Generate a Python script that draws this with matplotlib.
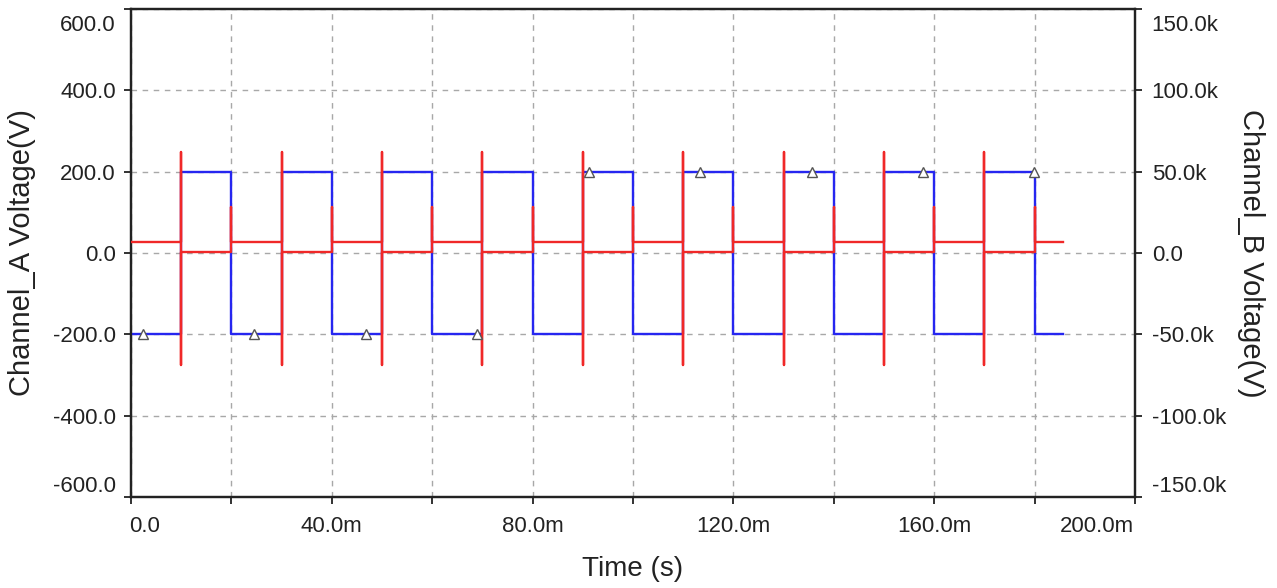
import matplotlib
matplotlib.use("Agg")
import matplotlib.pyplot as plt
import matplotlib.transforms as mtransforms
from matplotlib.ticker import FixedLocator, FuncFormatter

# ---- data (time in ms) ----
edge_times = [0, 10, 20, 30, 40, 50, 60, 70, 80, 90, 100,
              110, 120, 130, 140, 150, 160, 170, 180, 185.7]
chA_levels = [-200, 200, -200, 200, -200, 200, -200, 200, -200, 200,
              -200, 200, -200, 200, -200, 200, -200, 200, -200]          # V
chB_levels = [6.6, 0.5, 6.6, 0.5, 6.6, 0.5, 6.6, 0.5, 6.6, 0.5,
              6.6, 0.5, 6.6, 0.5, 6.6, 0.5, 6.6, 0.5, 6.6]              # kV
chB_spike_hi = [62.0, 28.5, 62.0, 28.5, 62.0, 28.5, 62.0, 28.5, 62.0,
                28.5, 62.0, 28.5, 62.0, 28.5, 62.0, 28.5, 62.0, 28.5]  # kV
chB_spike_lo = [-69.0, None, -69.0, None, -69.0, None, -69.0, None, -69.0,
                None, -69.0, None, -69.0, None, -69.0, None, -69.0, None]
marker_times = [2.4, 24.6, 46.8, 69.0, 91.2, 113.4, 135.6, 157.8, 179.8]
marker_values = [-200, -200, -200, -200, 200, 200, 200, 200, 200]

x_ticks = [0, 40, 80, 120, 160, 200]
x_labels = ["0.0", "40.0m", "80.0m", "120.0m", "160.0m", "200.0m"]
left_ticks = [-600, -400, -200, 0, 200, 400, 600]
right_ticks = [-150, -100, -50, 0, 50, 100, 150]

BLUE = "#2626f0"
RED = "#f02828"
GRID = "#a8a8a8"
TXT = "#222222"
FONT = "Liberation Sans"

# build step paths
ax_t, ax_v = [], []
for i, lvl in enumerate(chA_levels):
    ax_t += [edge_times[i], edge_times[i + 1]]
    ax_v += [lvl, lvl]

bx_t, bx_v = [], []
for i, lvl in enumerate(chB_levels):
    bx_t += [edge_times[i], edge_times[i + 1]]
    bx_v += [lvl, lvl]
    if i < len(chB_spike_hi):
        t = edge_times[i + 1]
        bx_t.append(t); bx_v.append(chB_spike_hi[i])
        if chB_spike_lo[i] is not None:
            bx_t.append(t); bx_v.append(chB_spike_lo[i])

plt.rcParams["font.family"] = [FONT, "DejaVu Sans"]
fig = plt.figure(figsize=(12.77, 5.88), dpi=100)
ax = fig.add_axes([131 / 1277, 1 - 497 / 588, (1135 - 131) / 1277, (497 - 9) / 588])
ax2 = ax.twinx()

ax.set_xlim(0, 200)
ax.set_ylim(-600, 600)
ax2.set_ylim(-150, 150)

ax.plot(ax_t, ax_v, color=BLUE, lw=1.7, zorder=3)
ax2.plot(bx_t, bx_v, color=RED, lw=1.7, zorder=3)
ax2.plot(marker_times, [v / 4 for v in marker_values], ls="none", marker="^",
         ms=7.5, mfc="white", mec="#555555", mew=1.0, zorder=4)

# grid
ax.xaxis.set_major_locator(FixedLocator(x_ticks))
ax.xaxis.set_minor_locator(FixedLocator(list(range(20, 200, 40))))
ax.set_xticklabels(x_labels)
ax.yaxis.set_major_locator(FixedLocator(left_ticks))
ax.yaxis.set_major_formatter(FuncFormatter(lambda v, p: f"{v:.1f}"))
ax2.yaxis.set_major_locator(FixedLocator(right_ticks))
ax2.yaxis.set_major_formatter(
    FuncFormatter(lambda v, p: "0.0" if v == 0 else f"{v:.1f}k"))
ax.grid(True, which="both", axis="x", color=GRID, ls=(0, (4, 4)), lw=1.0)
ax.grid(True, which="major", axis="y", color=GRID, ls=(0, (4, 4)), lw=1.0)

for a in (ax, ax2):
    for s in a.spines.values():
        s.set_linewidth(1.6)
        s.set_color(TXT)
ax.tick_params(axis="x", which="both", direction="out", length=5, width=1.3,
               labelsize=16, pad=9, colors=TXT)
ax.tick_params(axis="y", direction="out", length=5, width=1.3,
               labelsize=16, pad=6, colors=TXT)
ax2.tick_params(axis="y", direction="out", length=5, width=1.3,
                labelsize=16, pad=7, colors=TXT)

ax.set_xlabel("Time (s)", fontsize=20, labelpad=13, color=TXT)
ax.set_ylabel("Channel_A Voltage(V)", fontsize=21, labelpad=12, color=TXT)
ax2.set_ylabel("Channel_B Voltage(V)", fontsize=21, rotation=-90,
               labelpad=28, color=TXT)
ax.set_zorder(ax2.get_zorder() - 1)
ax2.patch.set_visible(False)

# shift end labels inward, as the scope software does
def _shift(label, dx, dy):
    label.set_transform(label.get_transform()
                        + mtransforms.ScaledTranslation(dx / 100, dy / 100, fig.dpi_scale_trans))

xl = ax.get_xticklabels()
xl[0].set_ha("left"); _shift(xl[0], -2, 0)
xl[-1].set_ha("right"); _shift(xl[-1], -1, 0)
yl = ax.get_yticklabels()
_shift(yl[0], 0, 13); _shift(yl[-1], 0, -14)
yr = ax2.get_yticklabels()
_shift(yr[0], 0, 13); _shift(yr[-1], 0, -14)

fig.savefig("out.png", dpi=100)
